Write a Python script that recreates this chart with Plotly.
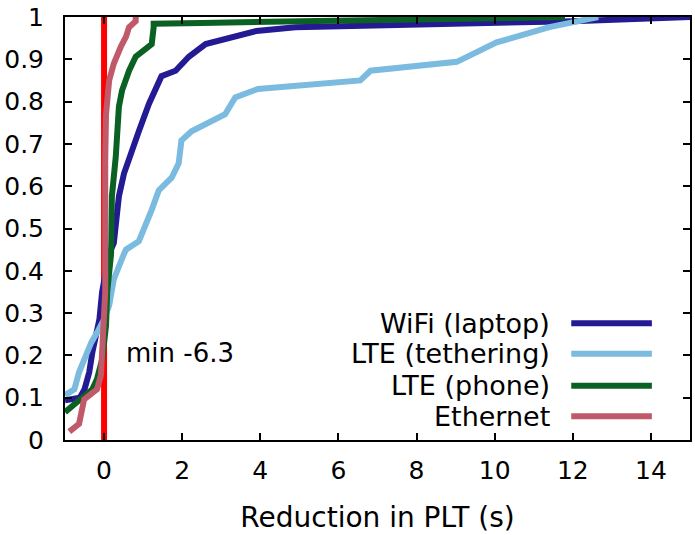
import plotly.graph_objects as go

# ---- data ----
wifi_x = [-1.0, -0.62, -0.5, -0.38, -0.3, -0.2, -0.12, -0.05, 0.13, 0.25, 0.3, 0.38, 0.51, 0.69,
          0.89, 1.15, 1.32, 1.47, 1.83, 2.17, 2.6, 3.4, 3.9, 4.9, 6.6, 9.0, 12.0, 15.0]
wifi_y = [0.094, 0.10, 0.12, 0.16, 0.207, 0.247, 0.285, 0.35, 0.44, 0.466, 0.52, 0.576, 0.63, 0.68,
          0.73, 0.795, 0.826, 0.86, 0.873, 0.906, 0.936, 0.955, 0.967, 0.976, 0.979, 0.983, 0.99, 1.0]

teth_x = [-1.0, -0.76, -0.64, -0.51, -0.33, -0.18, 0.0, 0.13, 0.25, 0.51, 0.56, 0.89, 1.09, 1.22,
          1.4, 1.73, 1.91, 1.96, 1.98, 2.24, 2.75, 3.1, 3.26, 3.36, 3.94, 6.56, 6.82, 9.03, 10.05,
          10.8, 11.4, 12.65]
teth_y = [0.106, 0.12, 0.16, 0.19, 0.23, 0.254, 0.285, 0.318, 0.38, 0.44, 0.45, 0.47, 0.513, 0.544,
          0.59, 0.62, 0.654, 0.69, 0.708, 0.73, 0.755, 0.77, 0.795, 0.81, 0.83, 0.85, 0.873, 0.894,
          0.94, 0.96, 0.976, 1.0]

phone_x = [-1.0, -0.76, -0.46, -0.3, -0.18, -0.05, 0.05, 0.08, 0.18, 0.2, 0.3, 0.38, 0.46, 0.64,
           0.81, 1.22, 1.27, 1.27, 2.5, 11.8]
phone_y = [0.066, 0.085, 0.106, 0.12, 0.144, 0.19, 0.27, 0.35, 0.44, 0.576, 0.67, 0.788, 0.826, 0.873,
           0.906, 0.936, 0.976, 0.984, 0.986, 1.0]

eth_x = [-0.89, -0.64, -0.51, -0.18, -0.08, -0.05, 0.0, 0.03, 0.03, 0.05, 0.13, 0.25, 0.43, 0.56,
         0.64, 0.81, 0.81]
eth_y = [0.02, 0.038, 0.096, 0.12, 0.153, 0.23, 0.31, 0.35, 0.66, 0.77, 0.85, 0.89, 0.93, 0.953,
         0.976, 0.99, 1.0]

marker_x = [0.0, 0.0]
marker_y = [0.0, 1.0]

series_names = ["WiFi (laptop)", "LTE (tethering)", "LTE (phone)", "Ethernet"]
series_colors = ["#241a93", "#7bbbe0", "#0b6124", "#c05a6a"]
x_ticks = [0, 2, 4, 6, 8, 10, 12, 14]
y_ticks = [0, 0.1, 0.2, 0.3, 0.4, 0.5, 0.6, 0.7, 0.8, 0.9, 1]
y_tick_text = ["0", "0.1", "0.2", "0.3", "0.4", "0.5", "0.6", "0.7", "0.8", "0.9", "1"]
annotation_text = "min -6.3"
x_title = "Reduction in PLT (s)"

FONT = "DejaVu Sans, sans-serif"

fig = go.Figure()
fig.add_trace(go.Scatter(x=marker_x, y=marker_y, mode="lines",
                         line=dict(color="#ff0000", width=6), showlegend=False, hoverinfo="skip"))
for xs, ys, name, col in zip([wifi_x, teth_x, phone_x, eth_x], [wifi_y, teth_y, phone_y, eth_y],
                             series_names, series_colors):
    fig.add_trace(go.Scatter(x=xs, y=ys, mode="lines", name=name,
                             line=dict(color=col, width=6), showlegend=False))

# custom gnuplot-style legend (text, then sample line)
leg_y = [0.276, 0.204, 0.128, 0.056]
for name, col, yy in zip(series_names, series_colors, leg_y):
    fig.add_annotation(x=0.779, y=yy, xref="paper", yref="paper", text=name, showarrow=False,
                       xanchor="right", yanchor="middle", font=dict(family=FONT, size=27, color="black"))
    fig.add_shape(type="line", xref="paper", yref="paper", x0=0.81, x1=0.939, y0=yy, y1=yy,
                  line=dict(color=col, width=6))

fig.add_annotation(x=0.5, y=0.205, xref="x", yref="y", text=annotation_text, showarrow=False,
                   xanchor="left", yanchor="middle", font=dict(family=FONT, size=26, color="black"))

axis_common = dict(showline=True, linecolor="black", linewidth=2, mirror="allticks",
                   ticks="inside", ticklen=7, tickwidth=1.5, tickcolor="black",
                   showgrid=False, zeroline=False, ticklabeloverflow="allow",
                   tickfont=dict(family=FONT, size=25, color="black"))

fig.update_xaxes(range=[-1, 15], tickvals=x_ticks, ticklabelstandoff=7,
                 title=dict(text=x_title, font=dict(family=FONT, size=28, color="black"),
                            standoff=23),
                 **axis_common)
fig.update_yaxes(range=[0, 1], tickvals=y_ticks, ticktext=y_tick_text, ticklabelstandoff=14,
                 **axis_common)

fig.update_layout(width=695, height=535, margin=dict(l=65, r=3, t=13, b=95),
                  plot_bgcolor="white", paper_bgcolor="white", showlegend=False)

fig.write_html("out.html")
